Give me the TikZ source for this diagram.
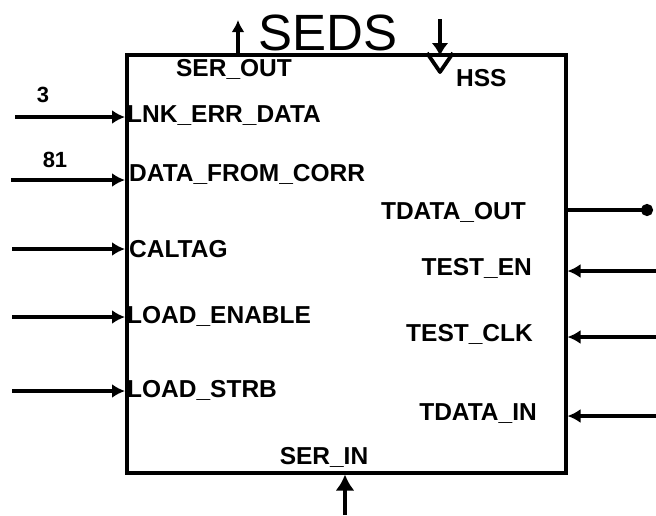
\documentclass[tikz,border=0pt]{standalone}
\usepackage{fontspec}
\setmainfont{Liberation Sans}
\usetikzlibrary{arrows.meta}
\begin{document}
\begin{tikzpicture}[x=1pt,y=-1pt,
  wire/.style={line width=3.8pt},
  inarrow/.style={wire,-{Latex[length=13pt,width=14pt]}},
  pinlabel/.style={font=\fontsize{24.5}{24.5}\selectfont\bfseries,inner sep=0pt},
  buslabel/.style={font=\fontsize{22}{22}\selectfont\bfseries,inner sep=0pt}]
\useasboundingbox (0,0) rectangle (656,515);

% block outline
\node (box) [draw,line width=3.5pt,minimum width=439pt,minimum height=418pt,inner sep=0pt,anchor=north west] at (125,53) {};

% title
\node (title) [font=\fontsize{51}{51}\selectfont,inner sep=0pt,anchor=base] at (328,50) {SEDS};

% left inputs
\coordinate (l1) at (15,117);
\coordinate (l2) at (11,180);
\coordinate (l3) at (12,249);
\coordinate (l4) at (12,317);
\coordinate (l5) at (12,391);
\foreach \p in {l1,l2,l3,l4,l5}
  \draw[inarrow] (\p) -- (\p -| box.west);

\node (lnk)  [pinlabel,anchor=west] at (127,116) {LNK\_ERR\_DATA};
\node (dfc)  [pinlabel,anchor=west] at (129,174) {DATA\_FROM\_CORR};
\node (cal)  [pinlabel,anchor=west] at (129,249) {CALTAG};
\node (lden) [pinlabel,anchor=west] at (127,316) {LOAD\_ENABLE};
\node (ldst) [pinlabel,anchor=west] at (127,390) {LOAD\_STRB};

\node (w3)  [buslabel] at (43,95) {3};
\node (w81) [buslabel] at (55,160) {81};

% right side
\coordinate (r1) at (653,210);
\coordinate (r2) at (656,271);
\coordinate (r3) at (656,337);
\coordinate (r4) at (656,416);
\draw[wire,-{Circle[length=12pt]}] (r1 -| box.east) -- (r1);
\foreach \p in {r2,r3,r4}
  \draw[inarrow] (\p) -- (\p -| box.east);

\node (tdo)  [pinlabel,anchor=east] at (526,212) {TDATA\_OUT};
\node (ten)  [pinlabel,anchor=east] at (532,268) {TEST\_EN};
\node (tclk) [pinlabel,anchor=east] at (533,334) {TEST\_CLK};
\node (tdi)  [pinlabel,anchor=east] at (537,414) {TDATA\_IN};

% serial output on top
\coordinate (so) at (238,20);
\draw[wire,-{Latex[length=12pt,width=13pt]}] (so |- box.north) -- (so);
\node (sout) [pinlabel,anchor=center] at (234,69) {SER\_OUT};

% HSS input with open triangle marker
\coordinate (hs) at (440,19);
\coordinate (hsv) at (440,72);
\draw[wire,-{Latex[length=13pt,width=17pt]}] (hs) -- ([yshift=-3pt]hs |- box.north);
\draw[line width=3.8pt,line join=round] ([xshift=-13pt]hs |- box.north) -- (hsv) -- ([xshift=13pt]hs |- box.north);
\node (hss) [pinlabel,anchor=west] at (456,78) {HSS};

% serial input at the bottom
\coordinate (si) at (345,515);
\draw[wire,-{Latex[length=16pt,width=19pt]}] (si) -- (si |- box.south);
\node (sin) [pinlabel,anchor=center] at (324,457) {SER\_IN};
\end{tikzpicture}
\end{document}
